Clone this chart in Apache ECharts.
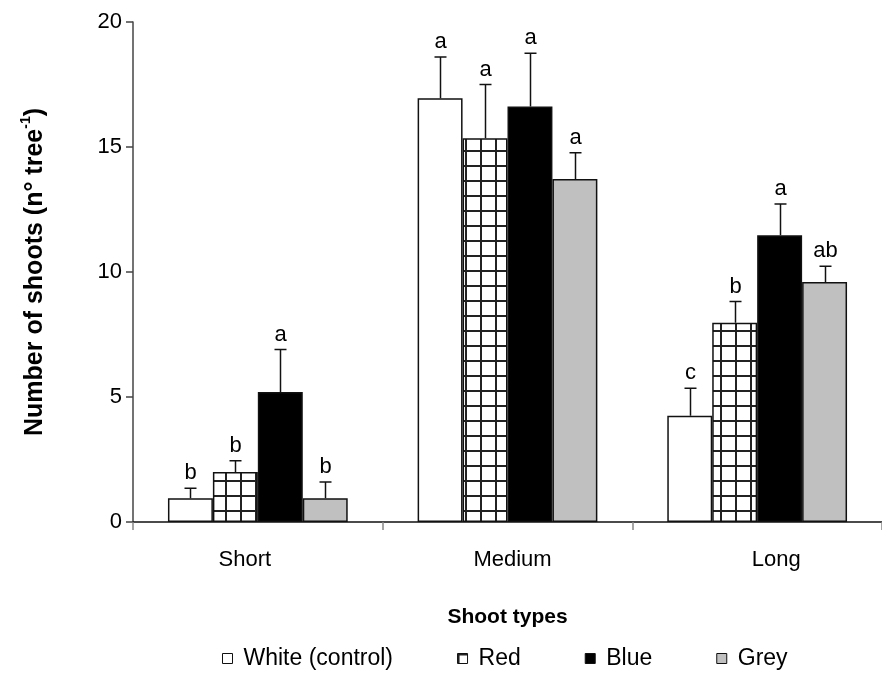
<!DOCTYPE html>
<html>
<head>
<meta charset="utf-8">
<script src="https://cdn.jsdelivr.net/npm/echarts@6/dist/echarts.min.js"></script>
<style>html,body{margin:0;padding:0;background:#fff;}#c{width:882px;height:685px;}</style>
</head>
<body>
<div id="c"></div>
<script>
var categories = ['Short', 'Medium', 'Long'];
var seriesNames = ['White (control)', 'Red', 'Blue', 'Grey'];
var whiteMean = [0.95, 16.95, 4.25];
var whiteErr  = [0.4, 1.65, 1.1];
var redMean   = [2.0, 15.35, 7.97];
var redErr    = [0.45, 2.15, 0.85];
var blueMean  = [5.2, 16.62, 11.47];
var blueErr   = [1.7, 2.13, 1.25];
var greyMean  = [0.95, 13.72, 9.6];
var greyErr   = [0.65, 1.05, 0.63];
var whiteLetters = ['b', 'a', 'c'];
var redLetters   = ['b', 'a', 'b'];
var blueLetters  = ['a', 'a', 'a'];
var greyLetters  = ['b', 'a', 'ab'];
var yTicks = [0, 5, 10, 15, 20];

var FONT = 'Arial, "Liberation Sans", sans-serif';
var CAT_GAP = 0.28;
var labelPads = [[0, 26, 0, 0], [0, 0, 0, 10], [0, 0, 0, 38]];

var pc = document.createElement('canvas');
pc.width = 15; pc.height = 15;
var g = pc.getContext('2d');
g.fillStyle = '#fff'; g.fillRect(0, 0, 15, 15);
g.strokeStyle = '#222'; g.lineWidth = 2;
g.beginPath(); g.moveTo(1, 0); g.lineTo(1, 15); g.moveTo(0, 1); g.lineTo(15, 1); g.stroke();

var means = [whiteMean, redMean, blueMean, greyMean];
var errs = [whiteErr, redErr, blueErr, greyErr];
var letters = [whiteLetters, redLetters, blueLetters, greyLetters];
var fills = ['#ffffff', {image: pc, repeat: 'repeat'}, '#000000', '#c0c0c0'];

var series = [];
seriesNames.forEach(function (name, i) {
  series.push({
    name: name, type: 'bar', data: means[i],
    barGap: '0%', barCategoryGap: (CAT_GAP * 100) + '%',
    itemStyle: {color: fills[i], borderColor: '#111', borderWidth: 1.5},
    emphasis: {disabled: true}, animation: false
  });
});
seriesNames.forEach(function (name, i) {
  var d = means[i].map(function (m, k) { return [k, m, errs[i][k], letters[i][k]]; });
  series.push({
    type: 'custom', data: d, animation: false, z: 5,
    encode: {x: 0, y: 1},
    renderItem: function (params, api) {
      var k = api.value(0), m = api.value(1), e = api.value(2);
      var lab = letters[i][params.dataIndex];
      var c = api.coord([k, m]);
      var top = api.coord([k, m + e]);
      var band = api.size([1, 0])[0];
      var gw = band * (1 - CAT_GAP);
      var bw = gw / 4;
      var x = c[0] - gw / 2 + bw * (i + 0.5);
      x = Math.round(x) + 0.5;
      return {
        type: 'group',
        children: [
          {type: 'line', shape: {x1: x, y1: c[1], x2: x, y2: top[1]}, style: {stroke: '#111', lineWidth: 1.5}},
          {type: 'line', shape: {x1: x - 6, y1: top[1], x2: x + 6, y2: top[1]}, style: {stroke: '#111', lineWidth: 1.5}},
          {type: 'text', x: x, y: top[1] - 4, style: {text: lab, fontFamily: FONT, fontSize: 22, fill: '#000', align: 'center', verticalAlign: 'bottom'}}
        ]
      };
    }
  });
});

var chart = echarts.init(document.getElementById('c'));
chart.setOption({
  backgroundColor: '#fff',
  animation: false,
  grid: {left: 133, top: 22, bottom: 163, right: -7},
  legend: {
    data: seriesNames, bottom: 10, left: 217,
    itemWidth: 10, itemHeight: 10, itemGap: 64,
    icon: 'rect',
    itemStyle: {borderColor: '#111', borderWidth: 1},
    textStyle: {fontFamily: FONT, fontSize: 23, color: '#000', padding: [0, 0, 0, 6]},
    selectedMode: false
  },
  xAxis: {
    type: 'category',
    data: categories.map(function (c, k) { return {value: c, textStyle: {padding: labelPads[k]}}; }),
    name: 'Shoot types', nameLocation: 'middle', nameGap: 85,
    nameTextStyle: {fontFamily: FONT, fontSize: 21, fontWeight: 'bold', color: '#000'},
    axisLine: {lineStyle: {color: '#111', width: 1.5}},
    axisTick: {show: true, length: 8, lineStyle: {color: '#888', width: 1.5}},
    axisLabel: {fontFamily: FONT, fontSize: 22, color: '#000', margin: 27}
  },
  yAxis: {
    type: 'value', min: 0, max: 20, interval: 5,
    name: '{a|Number of shoots (n° tree}{s|-1}{a|)}',
    nameLocation: 'middle', nameGap: 85, nameRotate: 90,
    nameTextStyle: {
      rich: {
        a: {fontFamily: FONT, fontSize: 25, fontWeight: 'bold', color: '#000', lineHeight: 29, verticalAlign: 'bottom'},
        s: {fontFamily: FONT, fontSize: 14, fontWeight: 'bold', color: '#000', lineHeight: 16, verticalAlign: 'top'}
      }
    },
    axisLine: {show: true, lineStyle: {color: '#444', width: 1.5}},
    axisTick: {show: true, length: 7, lineStyle: {color: '#444', width: 1.5}},
    splitLine: {show: false},
    axisLabel: {fontFamily: FONT, fontSize: 22, color: '#000', margin: 11,
      formatter: function (v) { return yTicks.indexOf(v) >= 0 ? String(v) : ''; }}
  },
  series: series
});
</script>
</body>
</html>
